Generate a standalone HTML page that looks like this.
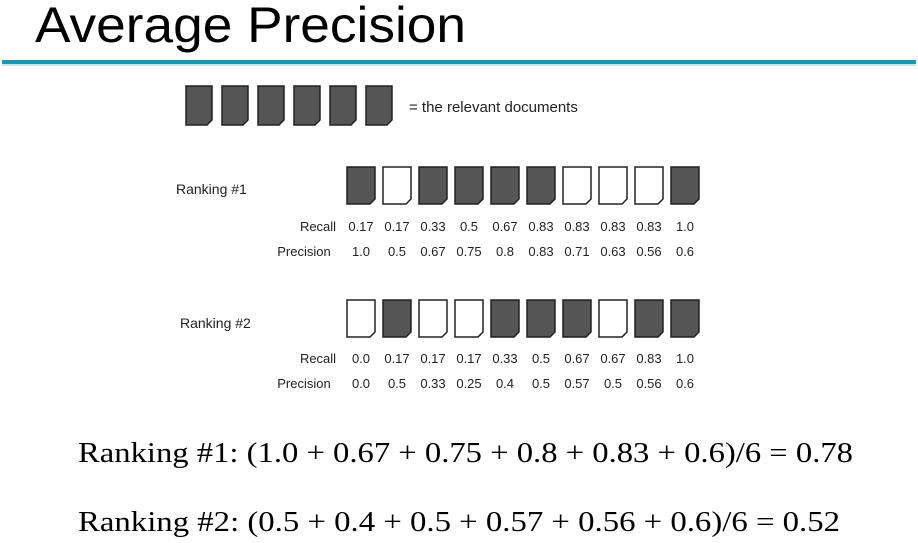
<!DOCTYPE html>
<html><head><meta charset="utf-8"><style>
html,body{margin:0;padding:0;background:#fff;width:918px;height:543px;overflow:hidden}
svg{display:block}
</style></head><body>
<svg id="chart" width="918" height="543" viewBox="0 0 918 543">
<text x="35" y="42" font-family="Liberation Sans, sans-serif" font-size="50" textLength="431" lengthAdjust="spacingAndGlyphs" fill="#000">Average Precision</text>
<rect x="2" y="60" width="914" height="4" fill="#139db5"/>
<rect x="2" y="64" width="914" height="2" fill="#ddd"/>
<text x="409" y="112" font-family="Liberation Sans, sans-serif" font-size="15" fill="#222">= the relevant documents</text>
<text x="176" y="194" font-family="Liberation Sans, sans-serif" font-size="14" fill="#222">Ranking #1</text>
<text x="180" y="328" font-family="Liberation Sans, sans-serif" font-size="14" fill="#222">Ranking #2</text>
<g id="docs"></g>
<text x="78" y="462" font-family="Liberation Serif, serif" font-size="28" textLength="775" lengthAdjust="spacingAndGlyphs" fill="#000">Ranking #1:  (1.0 + 0.67 + 0.75 + 0.8 + 0.83 + 0.6)/6 = 0.78</text>
<text x="78" y="531" font-family="Liberation Serif, serif" font-size="28" textLength="762" lengthAdjust="spacingAndGlyphs" fill="#000">Ranking #2:  (0.5 + 0.4 + 0.5 + 0.57 + 0.56 + 0.6)/6 = 0.52</text>
</svg>
<script>
const ranking1Relevant = [1,0,1,1,1,1,0,0,0,1];
const ranking1Recall = ["0.17","0.17","0.33","0.5","0.67","0.83","0.83","0.83","0.83","1.0"];
const ranking1Precision = ["1.0","0.5","0.67","0.75","0.8","0.83","0.71","0.63","0.56","0.6"];
const ranking2Relevant = [0,1,0,0,1,1,1,0,1,1];
const ranking2Recall = ["0.0","0.17","0.17","0.17","0.33","0.5","0.67","0.67","0.83","1.0"];
const ranking2Precision = ["0.0","0.5","0.33","0.25","0.4","0.5","0.57","0.5","0.56","0.6"];
const legendCount = 6;

const NS="http://www.w3.org/2000/svg";
const g=document.getElementById('docs');
function doc(x,y,w,h,filled){
  const p=document.createElementNS(NS,'path');
  const c=5;
  p.setAttribute('d',`M${x} ${y}H${x+w}V${y+h-c}L${x+w-c} ${y+h}H${x}Z`);
  p.setAttribute('fill',filled?'#555':'#fff');
  p.setAttribute('stroke','#222');
  p.setAttribute('stroke-width','1.5');
  
  
  g.appendChild(p);
}
function txt(x,y,s,anchor,name){
  const t=document.createElementNS(NS,'text');
  t.setAttribute('x',x);t.setAttribute('y',y);
  t.setAttribute('font-family','Liberation Sans, sans-serif');
  t.setAttribute('font-size','13');
  t.setAttribute('fill','#222');
  t.setAttribute('text-anchor',anchor);
  t.textContent=s;
  
  
  g.appendChild(t);
}
const colX=i=>347+i*36;
for(let i=0;i<legendCount;i++) doc(186+i*36,86,26,39,true);
function ranking(rel,rec,prec,y0,ry,py){
  rel.forEach((r,i)=>doc(colX(i),y0,28,37,r===1));
  txt(318,ry,'Recall','middle','recall-label');
  txt(304,py,'Precision','middle','precision-label');
  rec.forEach((v,i)=>txt(colX(i)+14,ry,v,'middle','recall-value'));
  prec.forEach((v,i)=>txt(colX(i)+14,py,v,'middle','precision-value'));
}
ranking(ranking1Relevant,ranking1Recall,ranking1Precision,167,231,256);
ranking(ranking2Relevant,ranking2Recall,ranking2Precision,300,363,388);
</script>
</body></html>
